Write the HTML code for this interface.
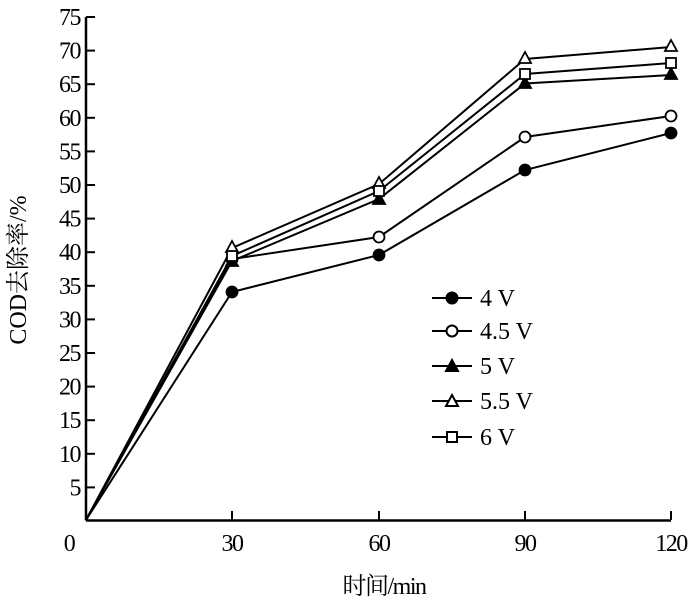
<!DOCTYPE html>
<html><head><style>body{margin:0;background:#fff}svg{display:block}text{font-family:"Liberation Serif","Noto Serif CJK SC",serif;fill:#000}</style></head><body>
<svg width="700" height="601" viewBox="0 0 700 601">
<g stroke="#000" stroke-width="2.5" fill="none">
<line x1="86" y1="17" x2="86" y2="520.5"/>
<line x1="86" y1="520.5" x2="671" y2="520.5"/>
</g>
<g stroke="#000" stroke-width="2">
<line x1="86" y1="17" x2="95" y2="17"/><line x1="86" y1="50.6" x2="95" y2="50.6"/><line x1="86" y1="84.2" x2="95" y2="84.2"/><line x1="86" y1="117.8" x2="95" y2="117.8"/><line x1="86" y1="151.4" x2="95" y2="151.4"/><line x1="86" y1="185" x2="95" y2="185"/><line x1="86" y1="218.6" x2="95" y2="218.6"/><line x1="86" y1="252.2" x2="95" y2="252.2"/><line x1="86" y1="285.8" x2="95" y2="285.8"/><line x1="86" y1="319.4" x2="95" y2="319.4"/><line x1="86" y1="353" x2="95" y2="353"/><line x1="86" y1="386.6" x2="95" y2="386.6"/><line x1="86" y1="420.2" x2="95" y2="420.2"/><line x1="86" y1="453.8" x2="95" y2="453.8"/><line x1="86" y1="487.4" x2="95" y2="487.4"/>
<line x1="232" y1="520" x2="232" y2="511"/><line x1="379" y1="520" x2="379" y2="511"/><line x1="525" y1="520" x2="525" y2="511"/><line x1="671" y1="520" x2="671" y2="511"/>
</g>
<g font-size="24" text-anchor="end" letter-spacing="-1.5">
<text x="80" y="25">75</text><text x="80" y="58.6">70</text><text x="80" y="92.2">65</text><text x="80" y="125.8">60</text><text x="80" y="159.4">55</text><text x="80" y="193">50</text><text x="80" y="226.6">45</text><text x="80" y="260.2">40</text><text x="80" y="293.8">35</text><text x="80" y="327.4">30</text><text x="80" y="361">25</text><text x="80" y="394.6">20</text><text x="80" y="428.2">15</text><text x="80" y="461.8">10</text><text x="80" y="495.4">5</text>
</g>
<g font-size="24" text-anchor="middle" letter-spacing="-1.5">
<text x="69" y="551">0</text><text x="232" y="551">30</text><text x="379" y="551">60</text><text x="525" y="551">90</text><text x="671" y="551">120</text>
<text x="384" y="594">时间/min</text>
</g>
<text font-size="24" text-anchor="middle" transform="translate(26,270) rotate(-90)">COD去除率/%</text>
<g stroke="#000" stroke-width="2" fill="none">
<polyline points="86,520 232,292 379,255 525,170 671,133"/>
<polyline points="86,520 232,259 379,237 525,137 671,116"/>
<polyline points="86,520 232,261 379,199 525,83.5 671,75"/>
<polyline points="86,520 232,248 379,184 525,59 671,47"/>
<polyline points="86,520 232,256 379,191 525,74 671,63"/>
</g>
<g stroke="#000" stroke-width="1.8">
<circle cx="232" cy="292" r="5.5"/><circle cx="379" cy="255" r="5.5"/><circle cx="525" cy="170" r="5.5"/><circle cx="671" cy="133" r="5.5"/>
<g fill="#fff"><circle cx="232" cy="259" r="5.5"/><circle cx="379" cy="237" r="5.5"/><circle cx="525" cy="137" r="5.5"/><circle cx="671" cy="116" r="5.5"/></g>
<polygon points="232,255 238,266 226,266"/><polygon points="379,193 385,204 373,204"/><polygon points="525,77 531,88 519,88"/><polygon points="671,68 677,79 665,79"/>
<g fill="#fff"><polygon points="232,241 238,252 226,252"/><polygon points="379,177 385,188 373,188"/><polygon points="525,52 531,63 519,63"/><polygon points="671,40 677,51 665,51"/>
<rect x="227" y="251" width="10" height="10"/><rect x="374" y="186" width="10" height="10"/><rect x="520" y="69" width="10" height="10"/><rect x="666" y="58" width="10" height="10"/></g>
</g>
<g stroke="#000" stroke-width="2">
<line x1="432" y1="298" x2="472" y2="298"/><line x1="432" y1="331" x2="472" y2="331"/><line x1="432" y1="366" x2="472" y2="366"/><line x1="432" y1="401" x2="472" y2="401"/><line x1="432" y1="437" x2="472" y2="437"/>
<circle cx="452" cy="298" r="5.5"/>
<circle cx="452" cy="331" r="5.5" fill="#fff"/>
<polygon points="452,360 458,371 446,371"/>
<polygon points="452,395 458,406 446,406" fill="#fff"/>
<rect x="447" y="432" width="10" height="10" fill="#fff"/>
</g>
<g font-size="24">
<text x="480" y="306">4 V</text><text x="480" y="339">4.5 V</text><text x="480" y="374">5 V</text><text x="480" y="409">5.5 V</text><text x="480" y="445">6 V</text>
</g>
</svg>
</body></html>
